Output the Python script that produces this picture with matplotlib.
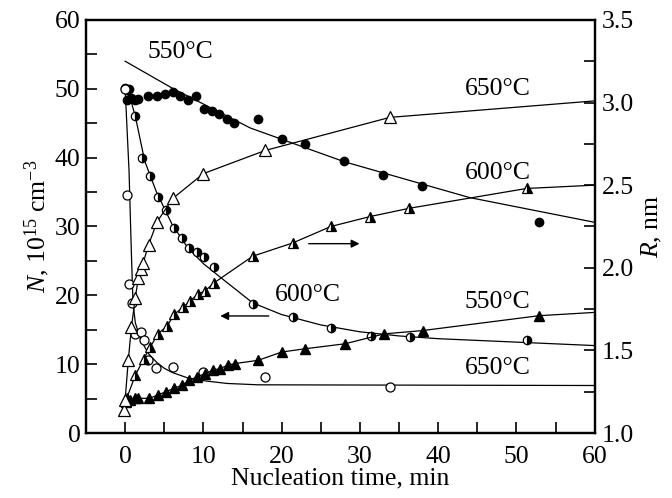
import matplotlib
matplotlib.use("Agg")
from matplotlib import pyplot as plt
from matplotlib.ticker import MultipleLocator

plt.rcParams['font.family'] = ['Liberation Serif', 'DejaVu Serif']
plt.rcParams['mathtext.fontset'] = 'custom'
plt.rcParams['mathtext.rm'] = 'Liberation Serif'
plt.rcParams['mathtext.it'] = 'Liberation Serif:italic'

# N, 10^15 cm^-3 (left axis)
t_n550 = [0.0, 0.2, 0.5, 0.8, 1.3, 1.7, 2.9, 4.1, 5.1, 6.1, 7.0, 8.0, 9.1,
          10.1, 11.1, 12.0, 13.0, 13.9, 17.0, 20.0, 23.0, 28.0, 33.0, 37.9, 52.9]
n550 = [50.1, 48.4, 50.0, 48.6, 48.4, 48.5, 49.0, 49.0, 49.3, 49.6, 49.0, 48.4, 49.0,
        47.1, 46.8, 46.4, 45.6, 45.1, 45.6, 42.7, 42.0, 39.5, 37.5, 35.9, 30.7]
fit_t_n550 = [0, 6, 16, 28, 44, 60]
fit_n550 = [54.0, 50.1, 44.3, 39.4, 34.2, 30.6]

t_n600 = [0.3, 1.3, 2.2, 3.2, 4.2, 5.2, 6.3, 7.3, 8.2, 9.2, 10.1, 11.4, 16.3,
          21.4, 26.3, 31.4, 36.4, 51.3]
n600 = [49.8, 46.0, 40.0, 37.4, 34.3, 32.4, 29.8, 28.3, 26.9, 26.3, 25.6, 24.1, 18.8,
        16.9, 15.3, 14.1, 14.0, 13.5]
fit_t_n600 = [0.3, 1.3, 2.5, 4, 6, 8, 10, 12.3, 16.3, 20, 25, 30, 35, 40, 50, 60]
fit_n600 = [50.0, 46.0, 39.5, 35.0, 30.3, 26.9, 24.6, 22.5, 18.9, 17.2, 15.7, 14.7,
            14.1, 13.7, 13.2, 12.7]

t_n650 = [0.0, 0.3, 0.5, 0.9, 1.3, 2.0, 2.4, 2.9, 4.0, 6.1, 10.0, 17.9, 33.8]
n650 = [50.0, 34.6, 21.6, 18.9, 14.4, 14.7, 13.5, 10.6, 9.4, 9.6, 8.9, 8.1, 6.7]
fit_t_n650 = [0, 0.5, 0.8, 1.0, 1.3, 2, 3, 4, 5, 6, 8, 10, 13, 17, 60]
fit_n650 = [50.0, 38.0, 26.0, 19.0, 16.0, 13.5, 11.5, 10.3, 9.4, 8.8, 8.0, 7.6, 7.2,
            7.0, 6.9]

# R, nm (right axis)
t_r550 = [0.1, 0.6, 1.3, 1.7, 3.1, 4.2, 5.2, 6.2, 7.3, 8.2, 9.2, 10.2, 11.2, 12.1,
          13.1, 14.0, 17.0, 20.0, 23.0, 28.1, 33.1, 38.0, 52.9]
r550 = [1.19, 1.20, 1.21, 1.21, 1.21, 1.23, 1.25, 1.27, 1.29, 1.32, 1.34, 1.36, 1.38,
        1.39, 1.41, 1.42, 1.44, 1.49, 1.51, 1.54, 1.60, 1.62, 1.71]
fit_t_r550 = t_r550 + [60]
fit_r550 = r550 + [1.73]

t_r600 = [0.2, 1.3, 2.4, 3.2, 4.2, 5.4, 6.3, 7.4, 8.3, 9.3, 10.2, 11.4, 16.3,
          21.4, 26.3, 31.3, 36.3, 51.3]
r600 = [1.21, 1.35, 1.45, 1.52, 1.60, 1.65, 1.72, 1.76, 1.80, 1.84, 1.86, 1.91, 2.07,
        2.15, 2.25, 2.31, 2.36, 2.48]
fit_t_r600 = t_r600 + [60]
fit_r600 = r600 + [2.50]

t_r650 = [-0.1, 0.0, 0.4, 0.8, 1.3, 1.7, 2.0, 2.3, 3.0, 4.1, 6.1, 10.0, 17.9, 33.8]
r650 = [1.14, 1.20, 1.44, 1.64, 1.82, 1.94, 1.99, 2.03, 2.14, 2.28, 2.42, 2.57, 2.71, 2.91]
fit_t_r650 = t_r650 + [60]
fit_r650 = r650 + [3.01]

fig = plt.figure(figsize=(6.72, 4.98), dpi=100)
ax = fig.add_axes([0.128, 0.1305, 0.757, 0.8295])
ax2 = ax.twinx()

lw = 0.9
ax.plot(fit_t_n550, fit_n550, '-', color='black', lw=lw)
ax.plot(fit_t_n600, fit_n600, '-', color='black', lw=lw)
ax.plot(fit_t_n650, fit_n650, '-', color='black', lw=lw)
ax.plot(t_n550, n550, 'o', color='black', ms=6)
ax.plot(t_n600, n600, 'o', color='black', ms=6, fillstyle='right',
        markerfacecoloralt='white', mew=0.9)
ax.plot(t_n650, n650, 'o', color='black', ms=6.5, mfc='white', mew=0.9)

ax2.plot(fit_t_r550, fit_r550, '-', color='black', lw=lw)
ax2.plot(fit_t_r600, fit_r600, '-', color='black', lw=lw)
ax2.plot(fit_t_r650, fit_r650, '-', color='black', lw=lw)
ax2.plot(t_r550, r550, '^', color='black', ms=7)
ax2.plot(t_r600, r600, '^', color='black', ms=7.5, fillstyle='right',
         markerfacecoloralt='white', mew=0.9)
ax2.plot(t_r650, r650, '^', color='black', ms=8, mfc='white', mew=0.9)

ax.set_xlim(-5, 60)
ax.set_ylim(0, 60)
ax2.set_ylim(1.0, 3.5)

fs = 18.5
ax.xaxis.set_major_locator(MultipleLocator(10))
ax.xaxis.set_minor_locator(MultipleLocator(5))
ax.yaxis.set_major_locator(MultipleLocator(10))
ax.yaxis.set_minor_locator(MultipleLocator(5))
ax2.yaxis.set_major_locator(MultipleLocator(0.5))
ax2.yaxis.set_minor_locator(MultipleLocator(0.25))
ax2.set_yticklabels(['%.1f' % v for v in ax2.get_yticks()])
for a in (ax, ax2):
    a.tick_params(which='both', direction='in', labelsize=fs, width=1.2)
    a.tick_params(which='major', length=8)
    a.tick_params(which='minor', length=8)
    for s in a.spines.values():
        s.set_linewidth(1.6)
ax.tick_params(axis='x', which='both', pad=9)
ax.tick_params(axis='y', which='both', pad=4)
ax2.tick_params(axis='y', which='both', pad=5)

ax.set_xlabel('Nucleation time, min', fontsize=fs, labelpad=0)
ax.set_ylabel(r'$\mathit{N}$, 10$^{15}$ cm$^{-3}$', fontsize=fs, labelpad=2)
ax2.set_ylabel(r'$\mathit{R}$, nm', fontsize=fs, rotation=90, labelpad=4)

ax.text(7.0, 55.4, '550°C', fontsize=fs, ha='center', va='center')
ax.text(47.6, 49.9, '650°C', fontsize=fs, ha='center', va='center')
ax.text(47.6, 37.8, '600°C', fontsize=fs, ha='center', va='center')
ax.text(23.3, 20.1, '600°C', fontsize=fs, ha='center', va='center')
ax.text(47.6, 19.0, '550°C', fontsize=fs, ha='center', va='center')
ax.text(47.6, 9.4, '650°C', fontsize=fs, ha='center', va='center')

ax.annotate('', xy=(30.3, 27.5), xytext=(23.1, 27.5),
            arrowprops=dict(arrowstyle='-|>', color='black', lw=1.0,
                            mutation_scale=12))
ax.annotate('', xy=(11.8, 17.0), xytext=(18.7, 17.0),
            arrowprops=dict(arrowstyle='-|>', color='black', lw=1.0,
                            mutation_scale=12))

fig.savefig('out.png', dpi=100)
